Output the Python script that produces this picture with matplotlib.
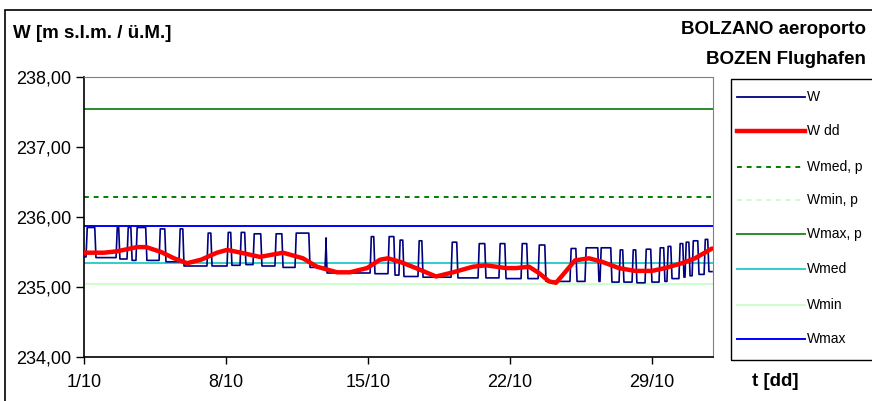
import matplotlib
matplotlib.use("Agg")
import matplotlib.pyplot as plt
from matplotlib.lines import Line2D
from matplotlib.patches import Rectangle

plt.rcParams["font.family"] = ["Liberation Sans", "DejaVu Sans"]

# --------------------------------------------------------------------------- #
# Data, x in days of October
# --------------------------------------------------------------------------- #
pulse_on = [1.10, 2.58, 3.12, 3.56, 4.70, 5.68, 7.06, 8.05, 8.69, 9.33, 10.41,
            11.40, 12.88, 15.10, 15.98, 16.52, 17.46, 19.09, 20.42, 21.45, 22.54,
            23.38, 24.95, 25.69, 26.43, 27.37, 28.01, 28.65, 29.34, 29.73, 30.32,
            30.62, 30.97, 31.56]
pulse_off = [1.59, 2.77, 3.37, 4.10, 5.04, 5.93, 7.31, 8.29, 8.98, 9.77, 10.81,
             12.14, 12.98, 15.34, 16.33, 16.77, 17.71, 19.43, 20.81, 21.80, 22.88,
             23.77, 25.30, 26.38, 27.02, 27.61, 28.25, 28.99, 29.63, 29.98, 30.57,
             30.87, 31.31, 31.80]
pulse_peak = [235.85, 235.85, 235.85, 235.85, 235.83, 235.83, 235.77, 235.78,
              235.78, 235.76, 235.76, 235.77, 235.70, 235.72, 235.72, 235.67,
              235.66, 235.64, 235.62, 235.62, 235.62, 235.60, 235.55, 235.56,
              235.56, 235.53, 235.53, 235.54, 235.56, 235.58, 235.62, 235.64,
              235.66, 235.68]
# level between pulses (before each pulse, plus the last one)
base_level = [235.43, 235.42, 235.40, 235.38, 235.38, 235.36, 235.30, 235.30,
              235.31, 235.32, 235.30, 235.28, 235.28, 235.20, 235.19, 235.17,
              235.15, 235.14, 235.13, 235.13, 235.12, 235.12, 235.08, 235.08,
              235.08, 235.07, 235.07, 235.06, 235.07, 235.08, 235.12, 235.14,
              235.16, 235.18, 235.22]
t_start, t_end = 1.0, 31.95

wdd_t = [1.00, 1.99, 2.63, 3.61, 4.06, 4.80, 5.44, 6.08, 6.77, 7.55, 8.05, 8.74,
         9.67, 10.81, 11.79, 12.48, 13.47, 14.11, 14.95, 15.59, 15.98, 16.57,
         17.36, 18.35, 19.19, 20.17, 20.81, 21.80, 22.29, 22.93, 23.42, 23.92,
         24.26, 24.56, 25.20, 25.89, 26.53, 27.37, 28.16, 28.99, 29.63, 30.47,
         31.11, 31.95]
wdd_v = [235.49, 235.49, 235.51, 235.57, 235.57, 235.50, 235.41, 235.34, 235.39,
         235.49, 235.53, 235.49, 235.43, 235.49, 235.41, 235.29, 235.21, 235.21,
         235.27, 235.39, 235.41, 235.36, 235.27, 235.15, 235.21, 235.29, 235.31,
         235.27, 235.27, 235.29, 235.20, 235.08, 235.06, 235.16, 235.38, 235.41,
         235.36, 235.27, 235.23, 235.23, 235.27, 235.34, 235.41, 235.55]

W_MED_P = 236.29
W_MIN_P = 235.05
W_MAX_P = 237.55
W_MED = 235.34
W_MIN = 235.04
W_MAX = 235.87

x_ticks = [1, 8, 15, 22, 29]
x_labels = ["1/10", "8/10", "15/10", "22/10", "29/10"]
y_ticks = [234, 235, 236, 237, 238]

# --------------------------------------------------------------------------- #
# W as a step-like path through the pulses
# --------------------------------------------------------------------------- #
w_t, w_v = [t_start], [base_level[0]]
for i, (on, off, pk) in enumerate(zip(pulse_on, pulse_off, pulse_peak)):
    w_t += [on, on + 0.06, off - 0.06, off]
    w_v += [base_level[i], pk, pk, base_level[i + 1]]
w_t.append(t_end)
w_v.append(base_level[-1])

W_PX, H_PX = 872, 401
fig = plt.figure(figsize=(W_PX / 100, H_PX / 100), dpi=100)
ax = fig.add_axes([84 / W_PX, 1 - 357 / H_PX, 629 / W_PX, 280 / H_PX])

hlines = [
    (W_MED_P, "#008000", (0, (2.5, 2.5)), "Wmed, p"),
    (W_MIN_P, "#ccffcc", (0, (2.5, 2.5)), "Wmin, p"),
    (W_MAX_P, "#2e8b2e", "-", "Wmax, p"),
    (W_MED, "#33cccc", "-", "Wmed"),
    (W_MIN, "#ccffcc", "-", "Wmin"),
    (W_MAX, "#0000ff", "-", "Wmax"),
]
for val, col, ls, _ in hlines:
    ax.plot([t_start, 32], [val, val], color=col, ls=ls, lw=1.4, zorder=2)

ax.plot(w_t, w_v, color="#000080", lw=1.2, zorder=3)
ax.plot(wdd_t, wdd_v, color="#ff0000", lw=3.2, zorder=4,
        solid_capstyle="round", solid_joinstyle="round")

ax.set_xlim(1, 32)
ax.set_ylim(234, 238)
ax.set_xticks(x_ticks)
ax.set_xticklabels(x_labels, fontsize=13)
ax.set_yticks(y_ticks)
ax.set_yticklabels([f"{v:.2f}".replace(".", ",") for v in y_ticks], fontsize=13)
ax.tick_params(axis="y", direction="out", length=6, width=1, pad=3)
ax.tick_params(axis="x", direction="out", length=5, width=1, pad=7)
for side in ("top", "right"):
    ax.spines[side].set_color("#808080")
for side in ("left", "bottom"):
    ax.spines[side].set_color("black")
    ax.spines[side].set_linewidth(1.2)

# texts
fig.text(13 / W_PX, 1 - 33 / H_PX, "W [m s.l.m. / ü.M.]", fontsize=13.5,
         fontweight="bold", ha="left", va="center")
fig.text(866 / W_PX, 1 - 30 / H_PX, "BOLZANO aeroporto", fontsize=13.5,
         fontweight="bold", ha="right", va="center")
fig.text(866 / W_PX, 1 - 60 / H_PX, "BOZEN Flughafen", fontsize=13.5,
         fontweight="bold", ha="right", va="center")
fig.text(752 / W_PX, 1 - 382 / H_PX, "t [dd]", fontsize=13.5,
         fontweight="bold", ha="left", va="center")

# outer chart border
fig.add_artist(Rectangle((5 / W_PX, -0.1), 1.2, 1 - 10 / H_PX + 0.1,
                         transform=fig.transFigure, fill=False,
                         edgecolor="black", lw=1.2, clip_on=False))

# legend (drawn by hand to match the boxed layout)
fig.add_artist(Rectangle((731 / W_PX, 1 - 360 / H_PX), 0.3, 281 / H_PX,
                         transform=fig.transFigure, fill=False,
                         edgecolor="black", lw=1.0, clip_on=False))
legend_items = [("W", "#000080", "-", 1.3), ("W dd", "#ff0000", "-", 3.2)]
legend_items += [(lab, col, ls, 1.4) for _, col, ls, lab in hlines]
legend_y = [97, 131, 167, 200, 234, 269, 305, 339]
for (lab, col, ls, lw), y in zip(legend_items, legend_y):
    yf = 1 - y / H_PX
    fig.add_artist(Line2D([737 / W_PX, 805 / W_PX], [yf, yf], color=col, ls=ls,
                          lw=lw, transform=fig.transFigure))
    fig.text(807 / W_PX, yf, lab, fontsize=10, ha="left", va="center")

fig.savefig("out.png", dpi=100)
